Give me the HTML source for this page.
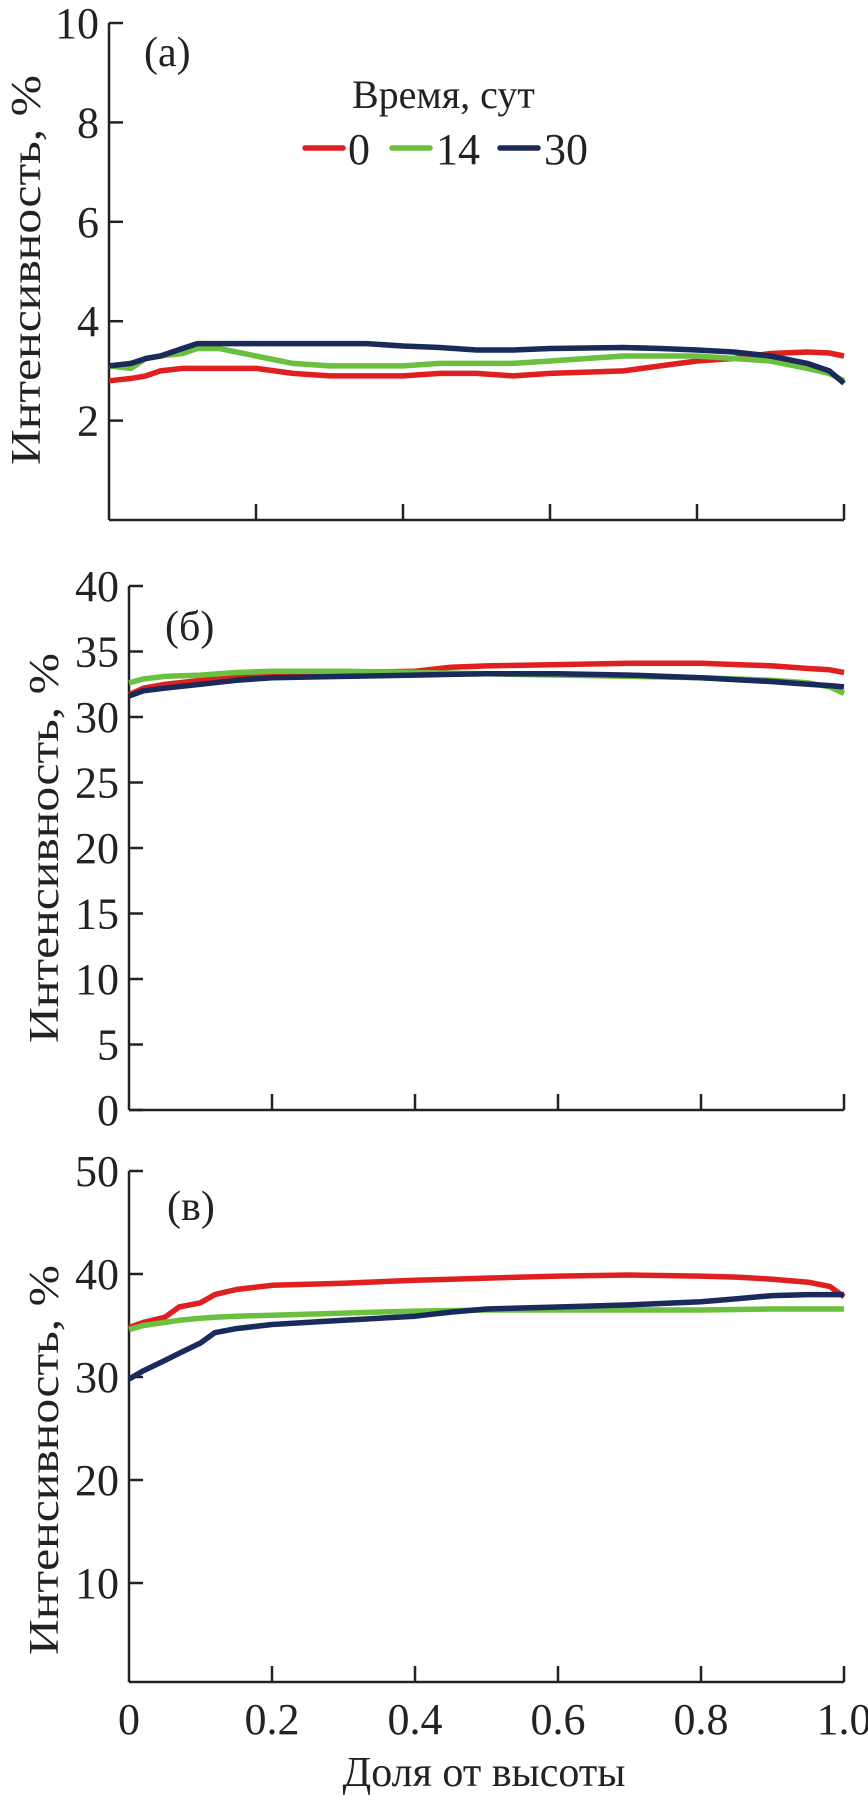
<!DOCTYPE html>
<html><head><meta charset="utf-8">
<style>
html,body{margin:0;padding:0;background:#fff;}
svg{display:block;font-family:"Liberation Serif","DejaVu Serif",serif;}
</style></head>
<body>
<svg id="chart" width="868" height="1800" viewBox="0 0 868 1800" xmlns="http://www.w3.org/2000/svg">
</svg>
<script>
const xTicks = [0, 0.2, 0.4, 0.6, 0.8, 1.0];
const xTickLabels = ["0", "0.2", "0.4", "0.6", "0.8", "1.0"];
const seriesNames = ["0", "14", "30"];
const seriesColors = ["#e02020", "#6cc040", "#1a2a5a"];

const aX = [0,0.03,0.05,0.07,0.1,0.12,0.15,0.2,0.25,0.3,0.35,0.4,0.45,0.5,0.55,0.6,0.7,0.75,0.8,0.85,0.9,0.95,0.98,1.0];
const aRed   = [2.8,2.85,2.9,3.0,3.05,3.05,3.05,3.05,2.95,2.9,2.9,2.9,2.95,2.95,2.9,2.95,3.0,3.1,3.2,3.25,3.35,3.38,3.36,3.3];
const aGreen = [3.1,3.05,3.25,3.3,3.35,3.45,3.45,3.3,3.15,3.1,3.1,3.1,3.15,3.15,3.15,3.2,3.3,3.3,3.3,3.25,3.2,3.05,2.95,2.8];
const aBlue  = [3.1,3.15,3.25,3.3,3.45,3.55,3.55,3.55,3.55,3.55,3.55,3.5,3.47,3.42,3.42,3.45,3.47,3.45,3.42,3.38,3.3,3.15,3.0,2.75];

const bX = [0,0.02,0.05,0.1,0.15,0.2,0.3,0.4,0.45,0.5,0.6,0.7,0.8,0.85,0.9,0.95,0.98,1.0];
const bRed   = [31.7,32.2,32.5,32.8,33.1,33.3,33.4,33.5,33.8,33.9,34.0,34.1,34.1,34.0,33.9,33.7,33.6,33.4];
const bGreen = [32.6,32.9,33.1,33.2,33.4,33.5,33.5,33.4,33.35,33.3,33.2,33.1,33.0,32.9,32.8,32.6,32.3,31.8];
const bBlue  = [31.6,32.0,32.2,32.5,32.8,33.0,33.1,33.2,33.25,33.3,33.3,33.2,33.0,32.85,32.7,32.5,32.4,32.3];

const cX = [0,0.02,0.05,0.07,0.1,0.12,0.15,0.2,0.3,0.4,0.45,0.5,0.6,0.7,0.8,0.85,0.9,0.95,0.98,1.0];
const cRed   = [34.8,35.3,35.8,36.8,37.2,38.0,38.5,38.9,39.1,39.4,39.5,39.6,39.8,39.9,39.8,39.7,39.5,39.2,38.8,37.8];
const cGreen = [34.6,35.0,35.3,35.5,35.7,35.8,35.9,36.0,36.2,36.4,36.45,36.5,36.5,36.5,36.5,36.55,36.6,36.6,36.6,36.6];
const cBlue  = [29.8,30.6,31.6,32.3,33.3,34.3,34.7,35.1,35.5,35.9,36.3,36.6,36.8,37.0,37.3,37.6,37.9,38.0,38.0,38.0];

const aYTicks = [2,4,6,8,10];
const bYTicks = [0,5,10,15,20,25,30,35,40];
const cYTicks = [10,20,30,40,50];

const NS = "http://www.w3.org/2000/svg";
const svg = document.getElementById("chart");
function mk(tag, attrs, parent){
  const e = document.createElementNS(NS, tag);
  for (const k in attrs) e.setAttribute(k, attrs[k]);
  (parent||svg).appendChild(e);
  return e;
}

function panel(cfg){
  const g = mk("g", {});
  
  
  const sx = v => cfg.x0 + (cfg.x1 - cfg.x0) * v;
  const sy = v => cfg.y0 - (v - 0) * cfg.k;
  const yAxis = mk("line", {x1:cfg.x0, y1:cfg.axisBottom, x2:cfg.x0, y2:sy(cfg.yMax), stroke:"#222", "stroke-width":2.5}, g);
  
  
  const xAxis = mk("line", {x1:cfg.x0, y1:cfg.axisBottom, x2:cfg.x1, y2:cfg.axisBottom, stroke:"#222", "stroke-width":2.5}, g);
  
  
  cfg.yTicks.forEach(t => {
    const tk = mk("line", {x1:cfg.x0, y1:sy(t), x2:cfg.x0+14, y2:sy(t), stroke:"#222", "stroke-width":2.5}, g);
    
    
    const lb = mk("text", {x:cfg.x0-10, y:sy(t)+15, "text-anchor":"end", "font-size":44, fill:"#222"}, g);
    lb.textContent = String(t);
    
    
  });
  xTicks.forEach((t, i) => {
    if (i > 0) {
      const tk = mk("line", {x1:sx(t), y1:cfg.axisBottom, x2:sx(t), y2:cfg.axisBottom-16, stroke:"#222", "stroke-width":2.5}, g);
      
      
    }
    if (cfg.showX) {
      const lb = mk("text", {x:sx(t), y:cfg.axisBottom+52, "text-anchor":"middle", "font-size":44, fill:"#222"}, g);
      lb.textContent = xTickLabels[i];
      
      
    }
  });
  const yt = mk("text", {x:0, y:0, transform:`translate(${cfg.titleX},${cfg.titleY}) rotate(-90)`, "text-anchor":"middle", "font-size":42, fill:"#222", textLength:390, lengthAdjust:"spacingAndGlyphs"}, g);
  yt.textContent = "Интенсивность, %";
  
  
  const pl = mk("text", {x:cfg.labelX, y:cfg.labelY, "font-size":42, fill:"#222"}, g);
  pl.textContent = cfg.label;
  
  
  cfg.series.forEach((s, i) => {
    const d = cfg.xs.map((x, j) => (j ? "L" : "M") + sx(x).toFixed(1) + "," + sy(s[j]).toFixed(1)).join(" ");
    const p = mk("path", {d:d, fill:"none", stroke:seriesColors[i], "stroke-width":5.5, "stroke-linejoin":"round"}, g);
    
    
  });
}

panel({name:"panel-a", x0:109, x1:844, y0:520, k:49.7, yMax:10, axisBottom:520, yTicks:aYTicks,
  xs:aX, series:[aRed,aGreen,aBlue], label:"(а)", labelX:144, labelY:66, titleX:40, titleY:270, showX:false});
panel({name:"panel-b", x0:129, x1:844, y0:1110, k:13.1, yMax:40, axisBottom:1110, yTicks:bYTicks,
  xs:bX, series:[bRed,bGreen,bBlue], label:"(б)", labelX:165, labelY:640, titleX:58, titleY:848, showX:false});
panel({name:"panel-c", x0:129, x1:844, y0:1686, k:10.3, yMax:50, axisBottom:1682, yTicks:cYTicks,
  xs:cX, series:[cRed,cGreen,cBlue], label:"(в)", labelX:167, labelY:1220, titleX:58, titleY:1460, showX:true});

const xt = mk("text", {x:484, y:1786, "text-anchor":"middle", "font-size":42, fill:"#222"});
xt.textContent = "Доля от высоты";



const lg = mk("g", {});


const lt = mk("text", {x:352, y:108, "font-size":40, fill:"#222"}, lg);
lt.textContent = "Время, сут";


const legX = [305, 392, 500];
const legTextX = [348, 436, 544];
seriesNames.forEach((n, i) => {
  const l = mk("line", {x1:legX[i], y1:148, x2:legX[i]+38, y2:148, stroke:seriesColors[i], "stroke-width":5.5, "stroke-linecap":"round"}, lg);
  
  
  const t = mk("text", {x:legTextX[i], y:164, "font-size":44, fill:"#222"}, lg);
  t.textContent = n;
  
  
});
</script>
</body></html>
